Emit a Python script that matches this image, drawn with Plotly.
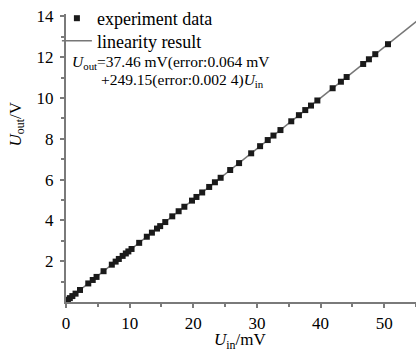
import plotly.graph_objects as go

u_in = [0.1, 0.3, 0.6, 1.0, 1.5, 2.2, 3.5, 4.2, 4.8, 5.9, 7.2, 7.8, 8.3, 8.9, 9.4, 9.8,
        10.3, 11.5, 12.7, 13.5, 14.3, 14.8, 15.6, 16.7, 17.7, 18.6, 19.8, 20.5, 21.4,
        22.5, 23.4, 24.3, 25.8, 27.2, 29.1, 30.5, 31.7, 32.6, 33.7, 35.4, 36.6, 37.6,
        38.5, 39.5, 41.9, 43.2, 44.1, 46.7, 47.6, 48.6, 50.6]
u_out = [0.06, 0.11, 0.19, 0.29, 0.41, 0.59, 0.91, 1.08, 1.23, 1.51, 1.83, 1.98, 2.11,
         2.26, 2.38, 2.48, 2.60, 2.90, 3.20, 3.40, 3.60, 3.72, 3.92, 4.20, 4.45, 4.67,
         4.97, 5.15, 5.37, 5.64, 5.87, 6.09, 6.47, 6.81, 7.29, 7.64, 7.94, 8.16, 8.43,
         8.86, 9.16, 9.41, 9.63, 9.88, 10.48, 10.80, 11.03, 11.67, 11.90, 12.15, 12.64]
fit_x = [0, 56]
fit_y = [0.04, 13.99]
x_ticks = [0, 10, 20, 30, 40, 50]
y_ticks = [2, 4, 6, 8, 10, 12, 14]

FONT = "Liberation Serif"
AX = "#7a7a7a"

fig = go.Figure()
fig.add_trace(go.Scatter(x=u_in, y=u_out, mode="markers", name="experiment data",
                         legend="legend",
                         marker=dict(symbol="square", size=6, color="#1a1a1a")))
fig.add_trace(go.Scatter(x=fit_x, y=fit_y, mode="lines", name="linearity result",
                         legend="legend2",
                         line=dict(color="#777777", width=1.5)))
fig.data = fig.data[::-1]

leg = dict(xanchor="left", yanchor="middle", bgcolor="rgba(0,0,0,0)", itemwidth=30,
           font=dict(size=18, family=FONT, color="black"))

fig.update_layout(
    width=416, height=352,
    margin=dict(l=66, r=0, t=13, b=50),
    paper_bgcolor="white", plot_bgcolor="white",
    font=dict(family=FONT, size=17, color="black"),
    showlegend=True,
    legend=dict(x=-0.026, y=0.986, **leg),
    legend2=dict(x=-0.026, y=0.903, **leg),
    xaxis=dict(range=[0, 55], tickvals=x_ticks, ticks="outside", ticklen=4, tickwidth=1.5,
               tickcolor=AX, showline=True, linecolor=AX, linewidth=2, automargin=False,
               showgrid=False, zeroline=False, ticklabelstandoff=1,
               tickfont=dict(family=FONT, size=17, color="black"),
               minor=dict(tickvals=[5, 15, 25, 35, 45, 55], ticks="outside", ticklen=3,
                          tickcolor=AX, tickwidth=1.5)),
    yaxis=dict(range=[0, 14.12], tickvals=y_ticks, ticks="outside", ticklen=4, tickwidth=1.5,
               tickcolor=AX, showline=True, linecolor=AX, linewidth=2, automargin=False,
               showgrid=False, zeroline=False, ticklabelstandoff=3,
               tickfont=dict(family=FONT, size=17, color="black"),
               minor=dict(tickvals=[1, 3, 5, 7, 9, 11, 13], ticks="outside", ticklen=3,
                          tickcolor=AX, tickwidth=1.5)),
)

fig.add_annotation(xref="paper", yref="paper", x=0.011, y=0.833, xanchor="left", yanchor="middle",
                   text="<i>U</i><sub>out</sub>=37.46 mV(error:0.064 mV",
                   showarrow=False, font=dict(size=15.5, family=FONT, color="black"))
fig.add_annotation(xref="paper", yref="paper", x=0.094, y=0.768, xanchor="left", yanchor="middle",
                   text="+249.15(error:0.002 4)<i>U</i><sub>in</sub>",
                   showarrow=False, font=dict(size=15.5, family=FONT, color="black"))
# axis titles
fig.add_annotation(xref="paper", yref="paper", x=0.497, y=-0.137, xanchor="center", yanchor="middle",
                   text="<i>U</i><sub>in</sub>/mV", showarrow=False,
                   font=dict(size=17, family=FONT, color="black"))
fig.add_annotation(xref="paper", yref="paper", x=-0.14, y=0.62, xanchor="center", yanchor="middle",
                   text="<i>U</i><sub>out</sub>/V", textangle=-90, showarrow=False,
                   font=dict(size=17, family=FONT, color="black"))

fig.write_html("out.html", config={"displayModeBar": False},
               post_script="document.body.style.margin='0';document.body.style.overflow='hidden';")
